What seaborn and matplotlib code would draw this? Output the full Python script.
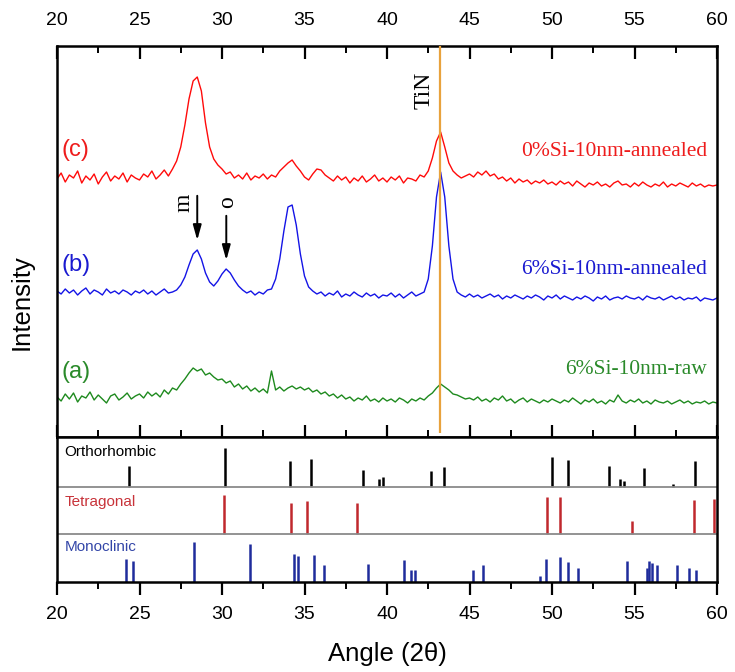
import numpy as np
import pandas as pd
import matplotlib
matplotlib.use("Agg")
import matplotlib.pyplot as plt
import seaborn as sns
from matplotlib.ticker import MultipleLocator

# ---------------- data ----------------
angle_start, angle_step = 20.0, 0.25  # sampling grid of the scans (deg 2theta)

# (c) 0%Si-10nm-annealed  (offset intensities, arbitrary units)
scan_c = [
    258, 264, 255, 262, 259, 266, 254, 261, 257, 263, 253, 260, 265, 256, 261, 258, 264, 255, 262, 259,
    257, 263, 260, 266, 258, 262, 267, 261, 268, 276, 290, 312, 338, 356, 360, 346, 314, 290, 278, 272,
    268, 263, 265, 259, 262, 258, 264, 257, 261, 259, 263, 258, 262, 260, 266, 270, 274, 277, 271, 266,
    260, 257, 263, 268, 267, 262, 259, 256, 261, 257, 260, 254, 259, 256, 261, 255, 258, 262, 256, 259,
    255, 260, 257, 261, 254, 259, 258, 256, 262, 260, 266, 279, 296, 305, 290, 274, 266, 262, 259, 261,
    263, 260, 265, 262, 266, 261, 263, 258, 260, 256, 259, 254, 258, 255, 257, 253, 256, 254, 257, 253,
    255, 252, 256, 253, 255, 251, 256, 253, 250, 254, 252, 255, 251, 253, 250, 254, 256, 252, 253, 250,
    254, 251, 255, 252, 250, 253, 251, 255, 250, 253, 251, 254, 252, 250, 254, 251, 253, 250, 252, 251,
    252]

# (b) 6%Si-10nm-annealed
scan_b = [
    146, 143, 148, 144, 147, 142, 146, 149, 143, 147, 145, 142, 148, 144, 146, 143, 147, 145, 142, 146,
    144, 147, 143, 146, 142, 145, 148, 144, 145, 147, 152, 160, 172, 183, 187, 178, 164, 155, 151, 156,
    163, 168, 164, 157, 151, 147, 144, 146, 142, 145, 143, 147, 148, 158, 178, 206, 230, 232, 212, 183,
    161, 150, 146, 143, 145, 141, 144, 142, 146, 140, 143, 141, 145, 142, 140, 144, 141, 143, 139, 142,
    141, 144, 140, 143, 139, 142, 145, 141, 143, 145, 158, 191, 240, 265, 240, 191, 158, 145, 142, 140,
    143, 140, 142, 139, 141, 143, 140, 142, 138, 141, 139, 142, 140, 138, 141, 139, 142, 140, 137, 141,
    139, 142, 138, 141, 139, 137, 140, 138, 141, 139, 136, 140, 138, 141, 137, 139, 140, 138, 141, 139,
    138, 140, 137, 141, 139, 138, 140, 137, 139, 141, 138, 140, 137, 139, 138, 140, 136, 139, 138, 137,
    139]

# (a) 6%Si-10nm-raw
scan_a = [
    40, 36, 43, 38, 44, 35, 41, 39, 45, 37, 42, 38, 34, 41, 43, 37, 40, 44, 38, 41,
    43, 39, 45, 41, 44, 40, 47, 43, 49, 47, 53, 58, 64, 69, 66, 68, 62, 64, 60, 57,
    58, 54, 56, 50, 53, 48, 51, 46, 49, 45, 48, 44, 66, 47, 50, 46, 49, 51, 48, 50,
    47, 49, 45, 47, 43, 45, 41, 43, 39, 42, 38, 40, 36, 39, 37, 41, 36, 38, 35, 39,
    36, 38, 35, 39, 37, 34, 38, 36, 39, 37, 41, 44, 49, 53, 50, 47, 43, 42, 40, 38,
    39, 37, 40, 36, 38, 35, 39, 37, 41, 36, 38, 34, 37, 39, 35, 38, 36, 34, 37, 35,
    38, 36, 34, 37, 35, 39, 36, 33, 37, 35, 38, 34, 36, 33, 37, 35, 42, 36, 34, 37,
    35, 38, 34, 36, 33, 37, 35, 34, 36, 33, 35, 37, 34, 36, 33, 35, 34, 36, 33, 35,
    34]

sample_names = ["0%Si-10nm-annealed", "6%Si-10nm-annealed", "6%Si-10nm-raw"]
sample_tags = ["(c)", "(b)", "(a)"]

tin_angle = 43.2
arrow_m_angle = 28.5
arrow_o_angle = 30.26

# reference patterns: positions (deg) and relative stick heights
ortho_pos = [24.34, 30.16, 34.12, 35.41, 38.54, 39.49, 39.75, 42.69, 43.45, 49.99,
             50.96, 53.43, 54.10, 54.34, 55.55, 57.33, 58.66]
ortho_int = [21, 39, 26, 28, 17, 8, 10, 16, 20, 30, 27, 21, 8, 6, 19, 3, 26]

tetra_pos = [30.10, 34.20, 35.13, 38.17, 49.69, 50.46, 54.85, 58.58, 59.79]
tetra_int = [39, 31, 33, 31, 37, 37, 13, 34, 35]

mono_pos = [24.16, 24.58, 28.32, 31.71, 34.34, 34.62, 35.55, 36.16, 38.84, 41.02,
            41.43, 41.67, 45.19, 45.84, 49.27, 49.63, 50.50, 50.95, 51.60, 54.57,
            55.78, 55.86, 56.04, 56.36, 57.57, 58.28, 58.75]
mono_int = [23, 21, 40, 38, 28, 26, 27, 17, 18, 22, 12, 12, 12, 17, 6, 23, 25, 20,
            14, 21, 14, 21, 19, 17, 17, 14, 12]

phase_names = ["Orthorhombic", "Tetragonal", "Monoclinic"]

x_ticks = [20, 25, 30, 35, 40, 45, 50, 55, 60]

# ---------------- styling ----------------
plt.rcParams['font.family'] = ['Liberation Sans', 'DejaVu Sans']
SERIF = ['Liberation Serif', 'DejaVu Serif']
curve_colors = {"0%Si-10nm-annealed": "#ff0a0a",
                "6%Si-10nm-annealed": "#1414e6",
                "6%Si-10nm-raw": "#1e8a1e"}
label_colors = ["#ee1c1c", "#1a1ad0", "#2a8a2a"]
phase_colors = ["#000000", "#c0282d", "#1f2c9c"]
phase_label_colors = ["#000000", "#c8333a", "#3346a8"]

W, H = 735, 672
fig = plt.figure(figsize=(W / 100, H / 100), dpi=100)
ax = fig.add_axes([57 / W, 1 - 437 / H, 660 / W, 391 / H])
ax2 = fig.add_axes([57 / W, 1 - 582 / H, 660 / W, 145 / H])

angle = angle_start + angle_step * np.arange(len(scan_c))
df = pd.concat([
    pd.DataFrame({"angle": angle, "intensity": vals, "sample": name})
    for name, vals in zip(sample_names, [scan_c, scan_b, scan_a])
], ignore_index=True)

sns.lineplot(data=df, x="angle", y="intensity", hue="sample", palette=curve_colors,
             estimator=None, sort=False, lw=1.0, legend=False, ax=ax)

ax.vlines(tin_angle, 4, 391, color="#e8a23c", lw=1.6, zorder=3)

ax.set_xlim(20, 60)
ax.set_ylim(0, 391)
ax.set_yticks([])
ax.set_xlabel("")
ax.set_ylabel("")
ax.xaxis.set_major_locator(MultipleLocator(5))
ax.xaxis.set_minor_locator(MultipleLocator(2.5))
ax.tick_params(axis="x", which="both", direction="in", top=True, bottom=True,
               labeltop=True, labelbottom=False, labelsize=14, pad=12, colors="black")
ax.tick_params(axis="x", which="major", length=9, width=1.6)
ax.tick_params(axis="x", which="minor", length=5, width=1.4)
for s in ax.spines.values():
    s.set_linewidth(1.8)
    s.set_color("black")

# sample tags and names
tag_y = [287, 172, 65]
name_y = [285, 167, 67]
for tag, ty, ny, name, col in zip(sample_tags, tag_y, name_y, sample_names, label_colors):
    ax.text(20.25, ty, tag, color=col, fontsize=17, ha="left", va="center")
    ax.text(59.4, ny, name, color=col, fontsize=15.5, ha="right", va="center", family=SERIF)

ax.text(42.25, 347, "TiN", rotation=90, fontsize=17, ha="center", va="center", family=SERIF)
ax.text(27.68, 234, "m", rotation=90, fontsize=17, ha="center", va="center", family=SERIF)
ax.text(30.37, 235, "o", rotation=90, fontsize=17, ha="center", va="center", family=SERIF)
arrow_kw = dict(arrowstyle="-|>,head_length=0.9,head_width=0.25", color="black", lw=1.4)
ax.annotate("", xy=(arrow_m_angle, 194), xytext=(arrow_m_angle, 244), arrowprops=arrow_kw)
ax.annotate("", xy=(arrow_o_angle, 174), xytext=(arrow_o_angle, 224), arrowprops=arrow_kw)

fig.text(22 / W, 1 - 302 / H, "Intensity", rotation=90, fontsize=18.5, ha="center", va="center")

# ---------------- stick patterns ----------------
band_base = [95, 48, 0]
band_top = [145, 95, 48]
for pos, inten, base, col in zip([ortho_pos, tetra_pos, mono_pos],
                                 [ortho_int, tetra_int, mono_int], band_base, phase_colors):
    ax2.vlines(pos, base, np.asarray(inten) + base, color=col, lw=1.8)
for b in band_base[:2]:
    ax2.axhline(b, color="#8a8a8a", lw=1.3)
label_y = [130, 80, 35]
for name, ly, col in zip(phase_names, label_y, phase_label_colors):
    ax2.text(20.45, ly, name, color=col, fontsize=11, ha="left", va="center")

ax2.set_xlim(20, 60)
ax2.set_ylim(0, 145)
ax2.set_yticks([])
ax2.set_xticks(x_ticks)
ax2.xaxis.set_minor_locator(MultipleLocator(2.5))
ax2.tick_params(axis="x", which="both", direction="out", top=False, bottom=True,
                labelsize=14, pad=8, colors="black")
ax2.tick_params(axis="x", which="major", length=9, width=1.6)
ax2.tick_params(axis="x", which="minor", length=5, width=1.4)
for s in ax2.spines.values():
    s.set_linewidth(1.8)
    s.set_color("black")
ax2.set_xlabel("Angle (2\u03b8)", fontsize=18.5, labelpad=14, color="black")

fig.savefig("out.png", dpi=100, facecolor="white")
